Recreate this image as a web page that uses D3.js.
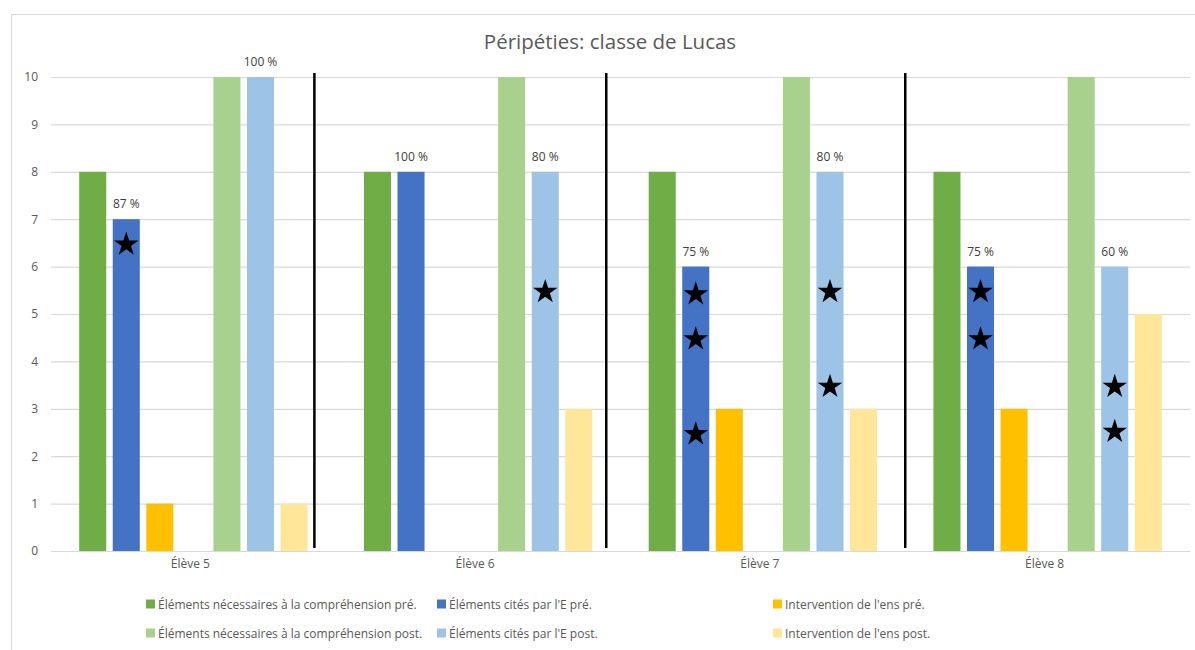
<!DOCTYPE html>
<html>
<head>
<meta charset="utf-8">
<script src="https://d3js.org/d3.v7.min.js"></script>
<style>
  body { margin: 0; background: #fff; }
  svg { display: block; font-family: "Open Sans", sans-serif; }
</style>
</head>
<body>
<svg id="chart" width="1195" height="650"></svg>
<script>
var width = 1195;
var height = 650;

// data
var students = ["Élève 5", "Élève 6", "Élève 7", "Élève 8"];
var seriesNames = [
    "Éléments nécessaires à la compréhension pré.",
    "Éléments cités par l'E pré.",
    "Intervention de l'ens pré.",
    "Éléments nécessaires à la compréhension post.",
    "Éléments cités par l'E post.",
    "Intervention de l'ens post."
];
var seriesColors = ["#70AD47", "#4472C4", "#FFC000", "#A9D18E", "#9DC3E6", "#FFE699"];
// slot of each series inside a group (slot 3 is left empty)
var seriesSlots = [0, 1, 2, 4, 5, 6];

var necessairesPre  = [8, 8, 8, 8];
var citesPre        = [7, 8, 6, 6];
var interventionPre = [1, 0, 3, 3];
var necessairesPost = [10, 10, 10, 10];
var citesPost       = [10, 8, 8, 6];
var interventionPost = [1, 3, 3, 5];
var seriesValues = [necessairesPre, citesPre, interventionPre, necessairesPost, citesPost, interventionPost];

var pctPre  = ["87 %", "100 %", "75 %", "75 %"];
var pctPost = ["100 %", "80 %", "80 %", "60 %"];

// stars drawn on the "cités" bars: [student, series, value]
var stars = [
    [0, 1, 6.5],
    [1, 4, 5.5],
    [2, 1, 5.45], [2, 1, 4.5], [2, 1, 2.5],
    [2, 4, 5.5], [2, 4, 3.5],
    [3, 1, 5.5], [3, 1, 4.5],
    [3, 4, 3.5], [3, 4, 2.55]
];

// hand-drawn separators, in category units from the left of the plot
var separators = [0.925, 1.95, 3.0];

var yTicks = [0, 1, 2, 3, 4, 5, 6, 7, 8, 9, 10];

var plot = { left: 51, right: 1190, top: 77, bottom: 551 };

var svg = d3.select("#chart");

// chart frame
svg.append("rect")
    .attr("x", 11.5).attr("y", 14.5)
    .attr("width", 1200).attr("height", 700)
    .attr("fill", "none").attr("stroke", "#d9d9d9");

var x = d3.scaleBand().domain(students).range([plot.left, plot.right]).padding(0);
var xSlot = d3.scaleBand().domain(d3.range(7)).range([0, x.bandwidth()])
    .paddingInner(0.194).paddingOuter(0.84);
var xUnit = d3.scaleLinear().domain([0, students.length]).range([plot.left, plot.right]);
var y = d3.scaleLinear().domain([0, 10]).range([plot.bottom, plot.top]);

svg.append("text")
    .attr("x", 610).attr("y", 49)
    .attr("text-anchor", "middle")
    .attr("font-size", 20.5)
    .attr("fill", "#595959")
    .text("Péripéties: classe de Lucas");

// gridlines
svg.append("g").selectAll("line")
    .data(yTicks)
    .enter().append("line")
    .attr("x1", plot.left).attr("x2", plot.right)
    .attr("y1", function (d) { return y(d) + 0.5; })
    .attr("y2", function (d) { return y(d) + 0.5; })
    .attr("stroke", "#d9d9d9").attr("stroke-width", 1.2);

// y axis labels
var yAxis = d3.axisLeft(y).tickValues(yTicks).tickSize(0).tickPadding(0);
var yg = svg.append("g").attr("transform", "translate(38,0)").call(yAxis);
yg.select(".domain").remove();
yg.selectAll("text").attr("font-size", 12).attr("fill", "#595959").attr("font-family", "Open Sans");

// x axis labels
var xAxis = d3.axisBottom(x).tickSize(0).tickPadding(0);
var xg = svg.append("g").attr("transform", "translate(-3," + (plot.bottom + 8) + ")").call(xAxis);
xg.select(".domain").remove();
xg.selectAll("text").attr("font-size", 12).attr("fill", "#595959").attr("font-family", "Open Sans");

// bars
var bars = [];
seriesValues.forEach(function (vals, s) {
    vals.forEach(function (v, i) {
        bars.push({ s: s, i: i, v: v });
    });
});

svg.append("g").selectAll("rect")
    .data(bars.filter(function (d) { return d.v > 0; }))
    .enter().append("rect")
    .attr("x", function (d) { return x(students[d.i]) + xSlot(seriesSlots[d.s]); })
    .attr("width", xSlot.bandwidth())
    .attr("y", function (d) { return y(d.v); })
    .attr("height", function (d) { return y(0) - y(d.v); })
    .attr("fill", function (d) { return seriesColors[d.s]; });

// percentage labels
var labels = [];
students.forEach(function (st, i) {
    labels.push({ s: 1, i: i, text: pctPre[i] });
    labels.push({ s: 4, i: i, text: pctPost[i] });
});
svg.append("g").selectAll("text")
    .data(labels)
    .enter().append("text")
    .attr("x", function (d) { return x(students[d.i]) + xSlot(seriesSlots[d.s]) + xSlot.bandwidth() / 2; })
    .attr("y", function (d) { return y(seriesValues[d.s][d.i]) - 11; })
    .attr("text-anchor", "middle")
    .attr("font-size", 12)
    .attr("fill", "#404040")
    .text(function (d) { return d.text; });

// stars
var star = d3.symbol().type(d3.symbolStar).size(185);
svg.append("g").selectAll("path")
    .data(stars)
    .enter().append("path")
    .attr("d", star)
    .attr("transform", function (d) {
        var cx = x(students[d[0]]) + xSlot(seriesSlots[d[1]]) + xSlot.bandwidth() / 2;
        return "translate(" + cx + "," + (y(d[2]) + 1.5) + ")";
    })
    .attr("fill", "#000");

// separator lines
svg.append("g").selectAll("line")
    .data(separators)
    .enter().append("line")
    .attr("x1", function (d) { return xUnit(d); })
    .attr("x2", function (d) { return xUnit(d); })
    .attr("y1", y(10) - 4)
    .attr("y2", y(0) - 3)
    .attr("stroke", "#000").attr("stroke-width", 2.5);

// legend
var legendCols = [146, 437, 773];
var legendRows = [604, 633];
var legend = svg.append("g").selectAll("g")
    .data(seriesNames)
    .enter().append("g")
    .attr("transform", function (d, i) {
        return "translate(" + legendCols[i % 3] + "," + legendRows[Math.floor(i / 3)] + ")";
    });
legend.append("rect")
    .attr("x", 0).attr("y", -4.5)
    .attr("width", 9).attr("height", 9)
    .attr("fill", function (d, i) { return seriesColors[i]; });
legend.append("text")
    .attr("x", 12).attr("y", 4.5)
    .attr("font-size", 12)
    .attr("fill", "#595959")
    .text(function (d) { return d; });
</script>
</body>
</html>
